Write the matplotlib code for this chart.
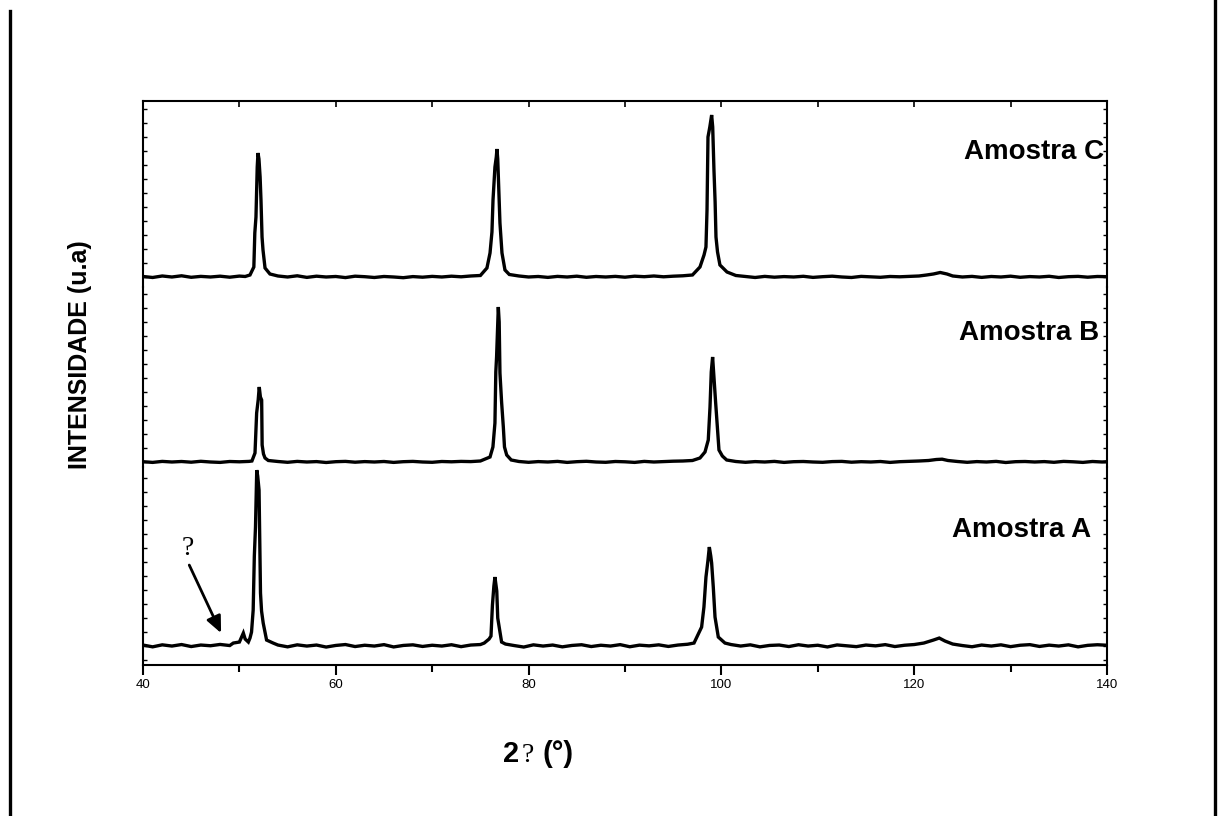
import matplotlib.pyplot as plt
from matplotlib.lines import Line2D
from matplotlib.ticker import MultipleLocator

plt.rcParams['font.family'] = ['Liberation Sans', 'DejaVu Sans']

# 2theta / intensity (a.u.), each trace with its own zero
x_c = [40, 41, 42, 43, 44, 45, 46, 47, 48, 49, 50, 50.6, 51.1, 51.5, 51.6, 51.72, 51.85,
       51.93, 52.03, 52.15, 52.24, 52.35, 52.45, 52.66, 53.17, 54, 55, 56, 57, 58, 59, 60,
       61, 62, 63, 64, 65, 66, 67, 68, 69, 70, 71, 72, 73, 74, 75, 75.68, 76.0, 76.2, 76.31,
       76.51, 76.65, 76.72, 76.8, 76.93, 77.03, 77.24, 77.55, 78, 79, 80, 81, 82, 83, 84,
       85, 86, 87, 88, 89, 90, 91, 92, 93, 94, 95, 96, 97, 97.78, 98.2, 98.4, 98.51, 98.61,
       98.8, 98.99, 99.1, 99.23, 99.35, 99.44, 99.6, 99.85, 100.58, 101.5, 102.5, 103.5,
       104.5, 105.5, 106.5, 107.5, 108.5, 109.5, 110.5, 111.5, 112.5, 113.5, 114.5, 115.5,
       116.5, 117.5, 118.5, 119.5, 120.5, 121.3, 122, 122.7, 123.4, 124, 125, 126, 127, 128,
       129, 130, 131, 132, 133, 134, 135, 136, 137, 138, 139, 140]
y_c = [0.5, -0.5, 1.0, 0, 1.2, -0.3, 0.6, 0, 0.8, -0.2, 0.9, 0.5, 2, 10, 44, 60, 110,
       124, 118, 100, 77, 40, 27, 9, 3, 1, 0, 1.2, -0.4, 0.8, 0, 0.5,
       -0.6, 0.8, 0.3, -0.5, 0.5, 0, -0.7, 0.4, -0.2, 0.6, 0, 0.8, 0.2, 1.0, 1.5, 9, 24, 45, 77,
       110, 120, 128, 118, 80, 54, 24, 7, 2.5, 1, 0, 0.5, -0.4, 0.6, 0,
       0.8, -0.3, 0.5, 0, 0.6, -0.2, 0.8, 0.3, 1.0, 0.2, 0.8, 1.2, 2.0, 10, 22, 30, 67, 140,
       150, 162, 150, 107, 75, 40, 25, 12, 5, 1.5, 0.5, -0.5,
       0.6, -0.2, 0.4, 0, 0.7, -0.4, 0.3, 0.8, 0, -0.5, 0.6, 0.2,
       -0.3, 0.5, 0.2, 0.6, 1.0, 2.0, 3.0, 4.5, 3.0, 1.0, 0, 0.6, -0.4, 0.5,
       0, 0.8, -0.3, 0.4, 0, 0.7, -0.5, 0.3, 0.6, -0.2, 0.5, 0.3]

x_b = [40, 41, 42, 43, 44, 45, 46, 47, 48, 49, 50, 51, 51.3, 51.62, 51.79, 51.95, 52.06,
       52.18, 52.31, 52.36, 52.5, 52.66, 53, 54, 55, 56, 57, 58, 59, 60, 61, 62, 63, 64, 65,
       66, 67, 68, 69, 70, 71, 72, 73, 74, 75, 76.0, 76.3, 76.51, 76.6, 76.68, 76.8, 76.86,
       76.95, 77.03, 77.2, 77.38, 77.5, 77.73, 78.2, 79, 80, 81, 82, 83, 84, 85, 86, 87,
       88, 89, 90, 91, 92, 93, 94, 95, 96, 97, 97.78, 98.3, 98.64, 98.82, 98.95, 99.09,
       99.23, 99.4, 99.51, 99.75, 100.1, 100.55, 101.5, 102.5, 103.5, 104.5, 105.5, 106.5,
       107.5, 108.5, 109.5, 110.5, 111.5, 112.5, 113.5, 114.5, 115.5, 116.5, 117.5, 118.5,
       119.5, 120.5, 121.5, 122.3, 122.9, 123.5, 124.5, 125.5, 126.5, 127.5, 128.5, 129.5,
       130.5, 131.5, 132.5, 133.5, 134.5, 135.5, 136.5, 137.5, 138.5, 139.5, 140]
y_b = [0.3, -0.4, 0.6, 0, 0.5, -0.2, 0.7, 0, -0.4, 0.5, 0.2, 0.6, 1, 9, 49, 62, 75,
       65, 62, 17, 8, 4, 1.5, 0.5, -0.3, 0.6, 0, 0.4, -0.5, 0.3, 0.6, -0.2, 0.4, 0, 0.5,
       -0.4, 0.3, 0.6, 0, -0.3, 0.5, 0.2, 0.6, 0.4, 1.0, 5, 15, 39, 90, 105, 140, 155,
       140, 89, 60, 35, 15, 7, 2, 0.5, -0.3, 0.4, 0, 0.6, -0.4, 0.3, 0.7, 0,
       -0.3, 0.5, 0.2, -0.4, 0.6, 0, 0.4, 0.8, 1.0, 1.5, 4, 10, 22, 55, 90, 105,
       84, 60, 45, 12, 6, 2, 0.5, -0.3, 0.4, 0, 0.6, -0.4,
       0.3, 0.5, 0, -0.3, 0.4, 0.6, -0.2, 0.3, 0, 0.5, -0.4, 0.3,
       0.6, 1.0, 1.5, 2.5, 2.8, 1.5, 0.5, -0.3, 0.4, 0, 0.6, -0.5,
       0.3, 0.5, 0, 0.4, -0.3, 0.6, 0.2, -0.4, 0.5, 0, 0.3]

x_a = [40, 41, 42, 43, 44, 45, 46, 47, 48, 49, 49.37, 50.0, 50.41, 50.6, 50.93, 51.1,
       51.26, 51.43, 51.55, 51.67, 51.8, 51.9, 52.04, 52.19, 52.3, 52.47, 52.82, 53.5, 54,
       55, 56, 57, 58, 59, 60, 61, 62, 63, 64, 65, 66, 67, 68, 69, 70, 71, 72, 73, 74, 75,
       75.4, 75.9, 76.1, 76.25, 76.4, 76.51, 76.6, 76.7, 76.8, 77.2, 77.6, 78.5, 79.5, 80.5,
       81.5, 82.5, 83.5, 84.5, 85.5, 86.5, 87.5, 88.5, 89.5, 90.5, 91.5, 92.5, 93.5, 94.5,
       95.5, 96.5, 97.16, 97.95, 98.19, 98.4, 98.6, 98.75, 98.9, 98.99, 99.16, 99.34, 99.68,
       100.37, 101, 102, 103, 104, 105, 106, 107, 108, 109, 110, 111, 112, 113, 114, 115,
       116, 117, 118, 119, 120, 121, 122, 122.6, 123.2, 124, 125, 126, 127, 128, 129, 130,
       131, 132, 133, 134, 135, 136, 137, 138, 139, 140]
y_a = [1.0, -0.8, 1.2, 0, 1.5, -0.5, 1.0, 0.3, 1.6, 0.5, 3, 4, 13, 7, 4, 8,
       14, 36, 90, 119, 176, 170, 156, 53, 35, 23, 6, 3, 1,
       -0.8, 1.2, 0, 1.0, -1.0, 0.6, 1.5, -0.5, 0.8, 0, 1.4, -0.9, 0.6, 1.2, -0.4, 0.8, 0, 1.3, -0.6, 1.0, 1.5,
       3, 7, 10, 41, 60, 69, 62, 55, 28, 4, 2, 0.5, -1.0, 1.2,
       0, 1.0, -0.8, 0.6, 1.3, -0.5, 0.8, 0, 1.4, -0.7, 0.9, 0.2, 1.2, -0.4,
       1.0, 1.8, 3, 19, 39, 69, 85, 99, 90, 83, 59, 29, 9,
       3, 1.5, 0, 1.2, -0.8, 0.6, 1.0, -0.5, 1.3, 0, 0.8, -0.9, 1.1, 0.3, -0.6, 1.0,
       0.2, 1.4, -0.5, 0.8, 1.5, 3, 6, 8, 5, 2, 0.5, -0.7, 1.0, 0, 1.2, -0.6,
       0.8, 1.4, -0.4, 0.9, 0, 1.2, -0.8, 0.7, 1.3, 0.8]

samples = ['Amostra C', 'Amostra B', 'Amostra A']
xs = [x_c, x_b, x_a]
ys = [y_c, y_b, y_a]

fig = plt.figure(figsize=(12.19, 8.16), dpi=100)

# panel boxes (fig fraction) and y-limits
boxes = [[0.1173, 0.6483, 0.7908, 0.2279],
         [0.1173, 0.4277, 0.7908, 0.2206],
         [0.1173, 0.1850, 0.7908, 0.2426]]
ylims = [(-10, 176), (-5, 175), (-19, 179)]
label_y = [125, 129, 116]
label_x = [139.7, 139.2, 138.4]

axes = []
for i in range(3):
    ax = fig.add_axes(boxes[i])
    ax.plot(xs[i], ys[i], color='black', lw=2.4, solid_joinstyle='miter')
    ax.set_xlim(40, 140)
    ax.set_ylim(*ylims[i])
    ax.patch.set_alpha(0)
    for s in ['left', 'right', 'top', 'bottom']:
        ax.spines[s].set_linewidth(1.5)
    ax.spines['top'].set_visible(i == 0)
    ax.spines['bottom'].set_visible(i == 2)
    ax.yaxis.set_major_locator(MultipleLocator(14))
    ax.tick_params(axis='y', which='both', left=True, right=True, labelleft=False,
                   direction='in', length=3, width=1)
    ax.xaxis.set_major_locator(MultipleLocator(20))
    ax.xaxis.set_minor_locator(MultipleLocator(10))
    if i == 0:
        ax.tick_params(axis='x', which='both', top=True, bottom=False, labelbottom=False,
                       direction='in', length=4, width=1.2)
    elif i == 1:
        ax.tick_params(axis='x', which='both', top=False, bottom=False, labelbottom=False)
    else:
        ax.tick_params(axis='x', which='major', direction='out', length=7, width=1.5,
                       labelsize=9.5, pad=3)
        ax.tick_params(axis='x', which='minor', direction='out', length=5, width=1.5)
    ax.text(label_x[i], label_y[i], samples[i], ha='right', va='center',
            fontsize=20, fontweight='bold')
    axes.append(ax)

ax_a = axes[2]
ax_a.annotate('', xy=(48.1, 13), xytext=(44.8, 81),
              arrowprops=dict(arrowstyle='-|>,head_length=1.0,head_width=0.45',
                              lw=2, color='black', shrinkA=0, shrinkB=0))
ax_a.text(44.6, 98, '?', family='Liberation Serif', fontsize=20, ha='center', va='center')

fig.text(0.0656, 0.565, 'INTENSIDADE (u.a)', rotation=90, ha='center', va='center',
         fontsize=18, fontweight='bold')

# x label: bold "2", serif "?", bold "(°)"
fig.text(503 / 1219, 0.066, '2', fontsize=21, fontweight='bold', ha='left', va='baseline')
fig.text(522 / 1219, 0.066, '?', fontsize=20, family='Liberation Serif', ha='left', va='baseline')
fig.text(543 / 1219, 0.066, '(°)', fontsize=21, fontweight='bold', ha='left', va='baseline')

# page frame lines left and right
fig.add_artist(Line2D([10 / 1219, 10 / 1219], [0, 1 - 11 / 816], color='black', lw=2.4))
fig.add_artist(Line2D([1215 / 1219, 1215 / 1219], [0, 1], color='black', lw=2.4))

fig.savefig('out.png', dpi=100)
